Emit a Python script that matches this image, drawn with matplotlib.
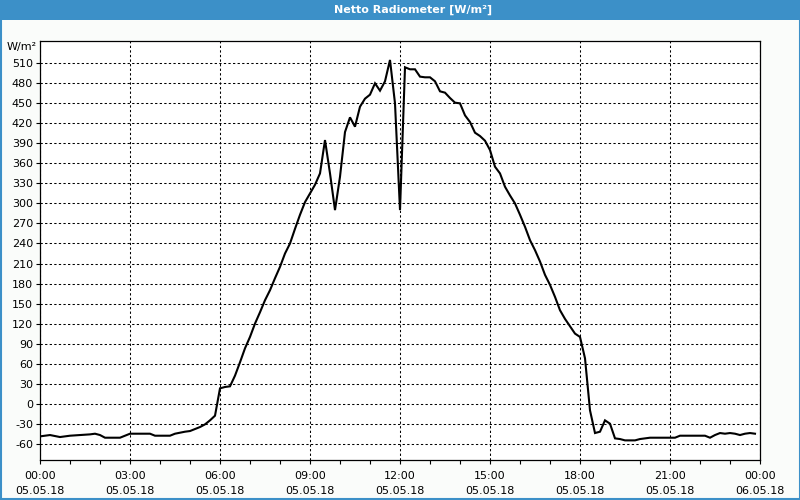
import matplotlib
matplotlib.use("Agg")
import matplotlib.pyplot as plt
from matplotlib.patches import Rectangle
from matplotlib.lines import Line2D

# readings, 10-minute steps (HH:MM, W/m²)
times = [
    "00:00", "00:20", "00:40", "01:00", "01:40", "01:50", "02:00", "02:10", "02:40",
    "03:00", "03:40", "03:50", "04:20", "04:30", "04:50", "05:00", "05:10", "05:20",
    "05:30", "05:40", "05:50", "06:00", "06:10", "06:20", "06:30", "06:40", "06:50",
    "07:00", "07:10", "07:20", "07:30", "07:40", "07:50", "08:00", "08:10", "08:20",
    "08:30", "08:40", "08:50", "09:00", "09:10", "09:20", "09:30", "09:40", "09:50",
    "10:00", "10:10", "10:20", "10:30", "10:40", "10:50", "11:00", "11:10", "11:20",
    "11:30", "11:40", "11:50", "12:00", "12:10", "12:20", "12:30", "12:40", "12:50",
    "13:00", "13:10", "13:20", "13:30", "13:40", "13:50", "14:00", "14:10", "14:20",
    "14:30", "14:40", "14:50", "15:00", "15:10", "15:20", "15:30", "15:40", "15:50",
    "16:00", "16:10", "16:20", "16:30", "16:40", "16:50", "17:00", "17:10", "17:20",
    "17:30", "17:40", "17:50", "18:00", "18:10", "18:20", "18:30", "18:40", "18:50",
    "19:00", "19:10", "19:20", "19:30", "19:40", "19:50", "20:00", "20:10", "20:20",
    "21:10", "21:20", "22:10", "22:20", "22:30", "22:40", "22:50", "23:00", "23:10",
    "23:20", "23:30", "23:40", "23:50",
]
values = [
    -49, -47, -50, -48, -46, -45, -47, -51, -51,
    -45, -45, -48, -48, -45, -42, -41, -38, -35,
    -31, -25, -18, 23, 25, 26, 42, 62, 83,
    100, 120, 137, 155, 170, 188, 205, 225, 240,
    262, 283, 302, 315, 328, 345, 395, 345, 290,
    340, 407, 429, 415, 445, 457, 463, 480, 469,
    483, 515, 450, 290, 504, 501, 501, 490, 489,
    489, 483, 468, 466, 458, 451, 450, 432, 422,
    406, 401, 394, 380, 355, 345, 325, 312, 300,
    283, 265, 245, 230, 213, 193, 178, 160, 140,
    127, 116, 105, 100, 68, -10, -44, -42, -25,
    -30, -52, -53, -55, -55, -55, -53, -52, -51,
    -51, -48, -48, -51, -47, -44, -45, -44, -45,
    -47, -45, -44, -45,
]
x_ticks = [0, 3, 6, 9, 12, 15, 18, 21, 24]
x_labels = ["00:00\n05.05.18", "03:00\n05.05.18", "06:00\n05.05.18",
            "09:00\n05.05.18", "12:00\n05.05.18", "15:00\n05.05.18",
            "18:00\n05.05.18", "21:00\n05.05.18", "00:00\n06.05.18"]
y_ticks = list(range(-60, 511, 30))

title = "Netto Radiometer [W/m²]"
unit = "W/m²"

hours = [int(t[:2]) + int(t[3:]) / 60 for t in times]

blue = "#3c90c8"
plt.rcParams["font.family"] = ["DejaVu Sans"]

fig = plt.figure(figsize=(8, 5), dpi=100, facecolor="#fafcfa")

# title bar and thin frame
fig.patches.append(Rectangle((0, 1 - 20 / 500), 1, 20 / 500, transform=fig.transFigure,
                             facecolor=blue, edgecolor="none"))
for xs, ys in [([0.5 / 800, 0.5 / 800], [0, 1]), ([1 - 0.5 / 800, 1 - 0.5 / 800], [0, 1]),
               ([0, 1], [1 / 500, 1 / 500])]:
    fig.lines.append(Line2D(xs, ys, transform=fig.transFigure, color=blue, lw=1.5))
fig.text(413 / 800, 1 - 10 / 500, title, color="white", fontsize=8, fontweight="bold",
         ha="center", va="center")

ax = fig.add_axes([40 / 800, 40 / 500, 720 / 800, 419 / 500])
ax.set_facecolor("white")
ax.plot(hours, values, color="black", lw=1.5, solid_joinstyle="miter")

ax.set_xlim(0, 24)
ax.set_ylim(-84.4, 543.4)
ax.set_xticks(x_ticks)
ax.set_xticklabels(x_labels, fontsize=8, linespacing=1.6)
ax.set_xticks(range(0, 25), minor=True)
ax.set_yticks(y_ticks)
ax.set_yticklabels([str(v) for v in y_ticks], fontsize=8)
ax.tick_params(axis="both", which="both", direction="out", length=3, width=0.8, color="black")
ax.tick_params(axis="x", pad=5)
ax.tick_params(axis="y", pad=2)
ax.grid(True, which="major", color="black", lw=0.75, linestyle=(0, (2.2, 2.2)))
for s in ax.spines.values():
    s.set_linewidth(0.9)
    s.set_color("black")

fig.text(37 / 800, 1 - 47 / 500, unit, fontsize=8, ha="right", va="center")

fig.savefig("out.png", dpi=100, facecolor=fig.get_facecolor())
